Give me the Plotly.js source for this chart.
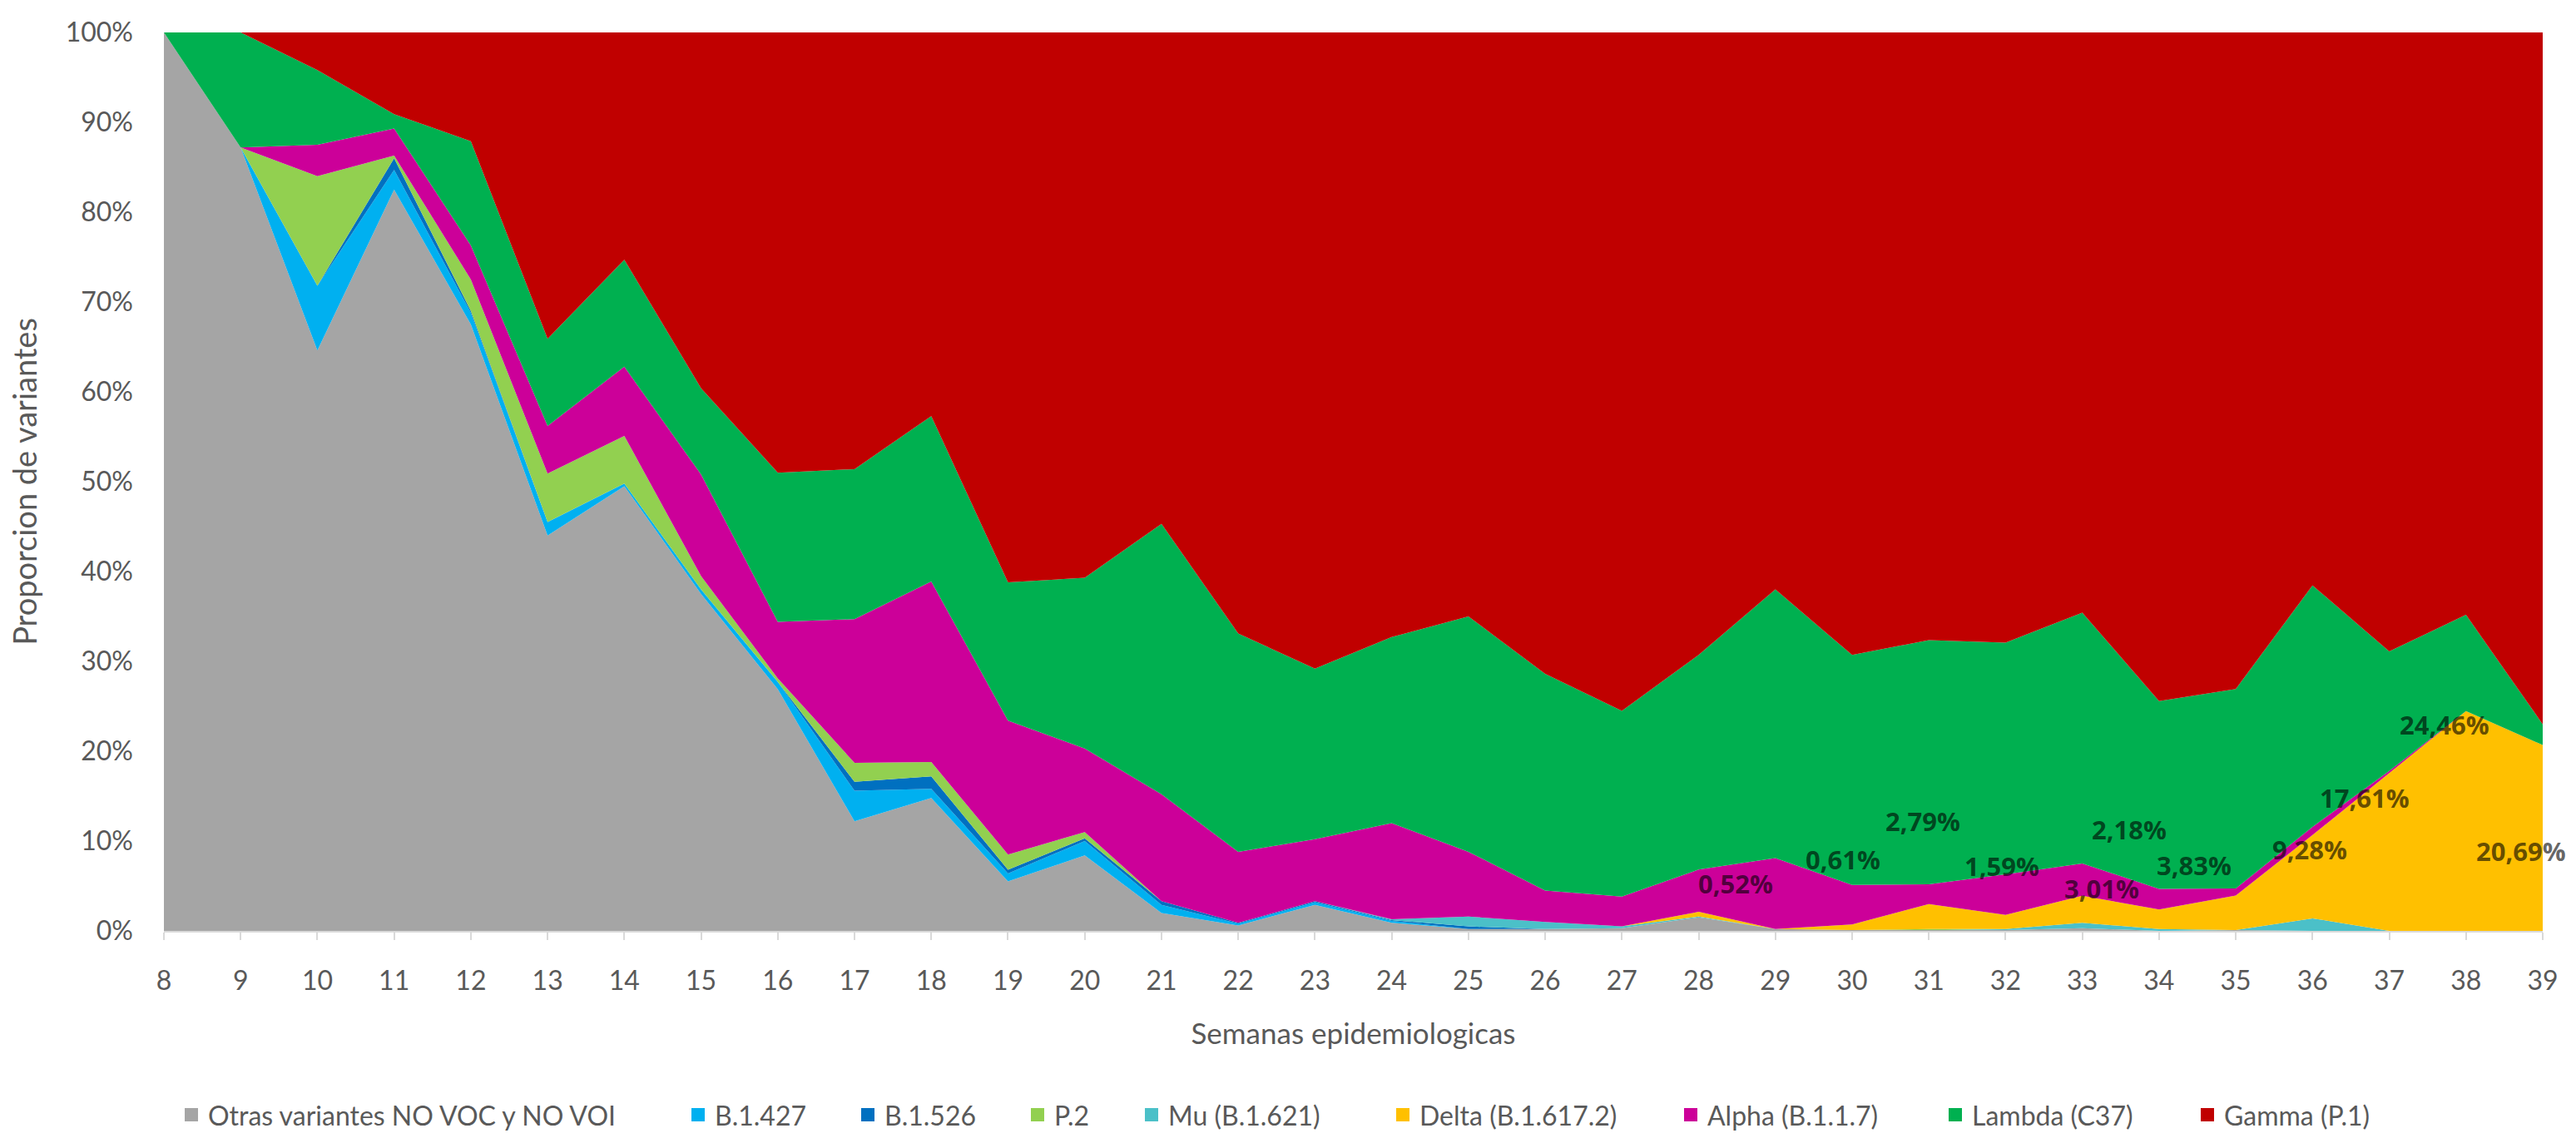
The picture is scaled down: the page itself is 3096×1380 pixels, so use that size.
<!DOCTYPE html>
<html>
<head>
<meta charset="utf-8">
<script src="https://cdn.plot.ly/plotly-3.0.1.min.js"></script>
<style>
  html, body { margin: 0; padding: 0; background: #ffffff; }
  #chart { width: 3096px; height: 1380px; }
</style>
</head>
<body>
<div id="chart"></div>
<script>
// ---- Data (percent of sequenced samples per epidemiological week) ----
const weeks = [8,9,10,11,12,13,14,15,16,17,18,19,20,21,22,23,24,25,26,27,28,29,30,31,32,33,34,35,36,37,38,39];

const otras  = [100,87.2,64.6,82.5,67.5,44.0,49.5,37.5,26.9,12.2,14.8,5.5,8.4,2.0,0.6,2.9,0.9,0.2,0.2,0.3,1.5,0.2,0.1,0.1,0.1,0.3,0,0.1,0,0,0,0];
const b1427  = [0,0,7.2,2.2,1.3,1.5,0.3,0.5,0.8,3.4,1.0,0.9,1.6,0.9,0.2,0.3,0.2,0,0,0,0,0,0,0,0,0,0,0,0,0,0,0];
const b1526  = [0,0,0,1.3,0.2,0,0,0,0,1.0,1.4,0.4,0.3,0.4,0.1,0.1,0.1,0.3,0,0,0,0,0,0,0,0,0,0,0,0,0,0];
const p2     = [0,0,12.2,0.3,3.5,5.4,5.3,1.5,0.4,2.1,1.6,1.7,0.7,0,0,0,0,0,0,0,0,0,0,0.1,0,0,0,0,0,0,0,0];
const mu     = [0,0,0,0,0,0,0,0,0,0,0,0,0,0,0,0,0.1,1.1,0.8,0.2,0.1,0,0,0,0.1,0.6,0.2,0,1.4,0,0,0];
const delta  = [0,0,0,0,0,0,0,0,0,0,0,0,0,0,0,0,0,0,0,0,0.52,0,0.61,2.79,1.59,3.01,2.18,3.83,9.28,17.61,24.46,20.69];
const alpha  = [0,0,3.5,3.0,3.8,5.3,7.7,11.3,6.3,16.0,20.1,14.9,9.3,11.9,7.9,6.9,10.7,7.2,3.5,3.3,4.7,7.9,4.4,2.2,4.5,3.6,2.3,0.8,0.9,0.2,0,0];
const lambda = [0,12.8,8.3,1.6,11.6,9.7,11.9,9.6,16.6,16.7,18.4,15.4,19.0,30.1,24.3,19.0,20.7,26.2,24.1,20.6,23.9,29.9,25.6,27.2,25.8,27.9,20.9,22.2,26.9,13.3,10.7,2.3];
const gamma  = [0,0,4.2,9.1,12.1,34.1,25.3,39.6,49.0,48.6,42.7,61.2,60.7,54.7,66.9,70.8,67.3,65.0,71.4,75.2,69.3,62.0,69.3,67.7,67.9,64.6,74.4,73.1,61.6,68.9,64.8,77.0];

const seriesNames = ['Otras variantes NO VOC y NO VOI','B.1.427','B.1.526','P.2','Mu (B.1.621)','Delta (B.1.617.2)','Alpha (B.1.1.7)','Lambda (C37)','Gamma (P.1)'];
const seriesData  = [otras, b1427, b1526, p2, mu, delta, alpha, lambda, gamma];

const yTickVals = [0,10,20,30,40,50,60,70,80,90,100];

// ---- Styles ----
const colors = ['#A5A5A5','#00B0F0','#0070C0','#92D050','#4BC0C8','#FFC000','#CC0099','#00B050','#C00000'];
const legendMarkerPx = [230, 839, 1043, 1247, 1384, 1686, 2032, 2350, 2653];
// pixel offsets of Delta data labels from the top of the Delta layer (dx, dy)
const labelShift = {28:[44,34],30:[-11,78],31:[-7,100],32:[-4,59],33:[23,9],34:[-36,96],35:[-50,37],36:[-3,-17],37:[-30,-30],38:[-26,-16],39:[-26,-127]};

const W = 3096, H = 1380;
const M = {l:197, r:40, t:39, b:243};
const plotW = W - M.l - M.r, plotH = H - M.t - M.b;
const FONT = 'Lato, "Open Sans", sans-serif';
const LABEL_FONT = '"Open Sans", Lato, sans-serif';

const traces = [];
seriesData.forEach((ys, i) => {
  traces.push({
    x: weeks, y: ys, name: seriesNames[i], type: 'scatter', mode: 'lines',
    stackgroup: 'one', groupnorm: 'percent',
    line: {width: 0, color: colors[i]}, fillcolor: colors[i],
    showlegend: false, hoverinfo: 'skip'
  });
});
// legend entries (square swatches)
seriesNames.forEach((nm, i) => {
  traces.push({
    x: [null], y: [null], name: nm, type: 'scatter', mode: 'markers',
    marker: {symbol: 'square', size: 16, color: colors[i]},
    showlegend: true, legend: i === 0 ? 'legend' : 'legend' + (i + 1), hoverinfo: 'skip'
  });
});

// Delta labels anchored on the top of the Delta layer (normalized stack)
const annotations = [];
weeks.forEach((w, k) => {
  if (delta[k] <= 0) return;
  let total = 0; seriesData.forEach(s => total += s[k]);
  let cum = 0; for (let j = 0; j <= 5; j++) cum += seriesData[j][k];
  const top = cum / total * 100;
  const sh = labelShift[w] || [0, 0];
  annotations.push({
    x: w, y: top, xref: 'x', yref: 'y', showarrow: false,
    text: '<b>' + delta[k].toFixed(2).replace('.', ',') + '%</b>',
    xshift: sh[0], yshift: sh[1],
    font: {family: LABEL_FONT, size: 31, color: 'rgba(0,0,0,0.62)'}
  });
});

const layout = {
  width: W, height: H,
  margin: M,
  paper_bgcolor: '#ffffff', plot_bgcolor: '#ffffff',
  font: {family: FONT, color: '#595959', size: 32},
  showlegend: true,
  xaxis: {
    range: [8, 39], tickvals: weeks, ticktext: weeks.map(String),
    showgrid: false, zeroline: false,
    showline: true, linecolor: '#D9D9D9', linewidth: 2,
    ticks: 'outside', ticklen: 9, tickcolor: '#D9D9D9', tickwidth: 2,
    ticklabelstandoff: 22,
    tickfont: {family: FONT, size: 32, color: '#595959'},
    title: {text: 'Semanas epidemiologicas', font: {family: FONT, size: 35, color: '#595959'}, standoff: 34},
    automargin: false, fixedrange: true
  },
  yaxis: {
    range: [0, 100], tickvals: yTickVals, ticktext: yTickVals.map(v => v + '%'),
    showgrid: false, zeroline: false, showline: false, ticks: '',
    ticklabelstandoff: 36,
    tickfont: {family: FONT, size: 32, color: '#595959'},
    title: {text: 'Proporcion de variantes', font: {family: FONT, size: 38, color: '#595959'}, standoff: 22},
    automargin: false, fixedrange: true
  },
  annotations: annotations
};
// one legend per entry to reproduce the reference spacing
const legendY = -(1362 - (M.t + plotH)) / plotH;
legendMarkerPx.forEach((px, i) => {
  const key = i === 0 ? 'legend' : 'legend' + (i + 1);
  layout[key] = {
    x: (px - 20 - M.l) / plotW, xanchor: 'left',
    y: legendY, yanchor: 'middle',
    orientation: 'h', bgcolor: 'rgba(0,0,0,0)', borderwidth: 0,
    font: {family: FONT, size: 32, color: '#595959'}
  };
});

Plotly.newPlot('chart', traces, layout, {displayModeBar: false, staticPlot: true});
</script>
</body>
</html>
